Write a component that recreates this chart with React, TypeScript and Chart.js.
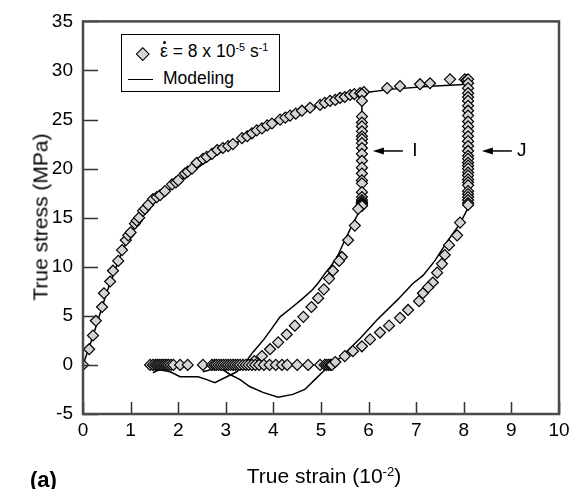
import React, { useEffect, useRef } from 'react';
import { Chart, registerables } from 'chart.js';

Chart.register(...registerables);

// ---- axis ticks ----
const xTickValues = [0, 1, 2, 3, 4, 5, 6, 7, 8, 9, 10];
const yTickValues = [-5, 0, 5, 10, 15, 20, 25, 30, 35];

// ---- experimental data (diamonds) ----
const loadStrain = [0, 0.13, 0.21, 0.27, 0.4, 0.44, 0.57, 0.63, 0.74, 0.82, 0.9, 0.95, 1.0, 1.09, 1.13, 1.18, 1.26, 1.3, 1.37, 1.47, 1.55, 1.62, 1.72, 1.87, 1.95, 2.0, 2.14, 2.2, 2.29, 2.39, 2.52, 2.6, 2.71, 2.82, 2.94, 3.05, 3.15, 3.34, 3.45, 3.55, 3.65, 3.76, 3.87, 3.97, 4.14, 4.25, 4.35, 4.47, 4.6, 4.77, 4.98, 5.08, 5.19, 5.3, 5.4, 5.5, 5.61, 5.7, 5.82, 5.9];
const loadStress = [0, 1.6, 3.0, 4.5, 5.9, 7.3, 8.5, 9.6, 10.6, 11.7, 12.7, 13.2, 13.5, 14.4, 14.7, 15.0, 15.7, 15.9, 16.3, 16.9, 17.1, 17.3, 17.7, 18.4, 18.6, 18.8, 19.5, 19.7, 20.0, 20.6, 21.0, 21.2, 21.5, 21.9, 22.1, 22.3, 22.5, 23.1, 23.3, 23.6, 23.9, 24.1, 24.4, 24.6, 25.0, 25.2, 25.4, 25.6, 25.9, 26.2, 26.5, 26.7, 26.9, 27.0, 27.2, 27.3, 27.5, 27.6, 27.7, 27.8];

const colIStrain = 5.86;
const colIStress = [27.6, 26.9, 25.3, 24.7, 24.3, 23.8, 23.3, 23.0, 22.6, 22.1, 21.5, 20.8, 20.1, 19.5, 18.8, 18.5, 17.6, 17.1, 16.8, 16.6, 16.5, 16.4, 16.3, 16.2];

const topStrain = [6.39, 6.66, 7.08, 7.29, 7.71, 8.02, 8.06];
const topStress = [28.2, 28.4, 28.6, 28.7, 29.1, 29.1, 29.0];

const colJStrain = 8.09;
const colJStress = [29.1, 28.7, 28.2, 27.7, 27.3, 26.9, 26.4, 25.9, 25.4, 24.8, 24.3, 23.8, 23.3, 22.8, 22.3, 21.8, 21.3, 21.0, 20.6, 20.3, 20.0, 19.6, 19.3, 18.9, 18.6, 18.3, 17.7, 17.4, 17.1, 16.8, 16.5, 16.3];

const unloadIStrain = [5.78, 5.71, 5.57, 5.44, 5.38, 5.25, 5.17, 5.06, 4.94, 4.8, 4.63, 4.45, 4.28, 4.1, 3.93, 3.76, 3.6];
const unloadIStress = [15.9, 14.2, 12.7, 11.0, 10.6, 9.6, 8.8, 7.7, 6.8, 5.9, 4.9, 4.0, 3.1, 2.3, 1.6, 0.9, 0.4];

const zeroStrain = [1.41, 1.47, 1.52, 1.56, 1.6, 1.64, 1.68, 1.72, 1.76, 1.8, 1.85, 1.9, 2.04, 2.2, 2.52, 2.71, 2.76, 2.8, 2.85, 2.9, 2.95, 3.0, 3.05, 3.1, 3.15, 3.2, 3.25, 3.3, 3.36, 3.42, 3.48, 3.55, 3.62, 3.7, 3.8, 3.92, 4.05, 4.18, 4.29, 4.5, 4.73, 4.98, 5.08, 5.12, 5.16, 5.2, 5.23];
const zeroStress = [0, 0, 0, 0, 0, 0, 0, 0, 0, 0, 0, 0, 0, 0, 0, 0, 0, 0, 0, 0, 0, 0, 0, 0, 0, 0, 0, 0, 0, 0, 0, 0, 0, 0, 0, 0, 0, 0, 0, 0, 0, 0, 0, 0, 0, 0, 0];

const unloadJStrain = [7.92, 7.86, 7.69, 7.6, 7.54, 7.44, 7.35, 7.25, 7.14, 7.06, 6.83, 6.66, 6.43, 6.24, 6.03, 5.86, 5.67, 5.5, 5.3];
const unloadJStress = [14.5, 13.2, 12.2, 11.2, 10.3, 9.4, 8.4, 7.9, 7.3, 6.5, 5.6, 4.8, 4.0, 3.3, 2.6, 1.9, 1.4, 0.9, 0.3];

// ---- modeling curves (solid line) ----
const modelAStrain = [0, 0.2, 0.5, 0.8, 1.0, 1.3, 1.6, 2.0, 2.5, 3.0, 3.5, 4.0, 4.5, 5.0, 5.5, 5.86, 5.86, 5.8, 5.67, 5.5, 5.34, 5.2, 5.08, 4.95, 4.81, 4.6, 4.4, 4.14, 3.95, 3.8, 3.66, 3.57, 3.45, 3.32, 3.23, 3.02, 2.77, 2.6, 2.42, 2.2, 2.04, 1.83, 1.62, 1.55, 1.47];
const modelAStress = [0, 2.8, 7.4, 11.3, 13.4, 15.5, 17.0, 18.6, 20.4, 22.0, 23.4, 24.6, 25.6, 26.5, 27.2, 27.6, 16.5, 15.6, 14.4, 12.7, 11.0, 10.0, 9.3, 8.4, 7.6, 6.7, 5.9, 4.9, 3.6, 2.6, 1.8, 1.3, 0.5, -0.2, -0.7, -1.2, -1.8, -1.5, -1.2, -1.2, -1.2, -0.7, -0.5, -0.6, -0.8];

const modelBStrain = [5.86, 6.5, 7.3, 8.09, 8.09, 7.92, 7.67, 7.39, 7.14, 6.93, 6.6, 6.18, 5.82, 5.4, 5.23, 5.04, 4.87, 4.66, 4.41, 4.1, 3.78, 3.5, 3.3, 3.1, 2.94, 2.75, 2.52];
const modelBStress = [27.7, 28.1, 28.4, 28.6, 16.0, 14.4, 12.7, 10.6, 9.1, 8.3, 6.6, 4.6, 2.7, 0.7, 0.2, -0.7, -1.5, -2.5, -3.0, -3.3, -2.8, -2.2, -1.5, -1.0, -0.5, -0.4, -0.7];

// ---- annotations (arrows pointing at the I and J columns) ----
const arrowLabels = ['I', 'J'];
const arrowTail = [6.72, 9.01];
const arrowTip = [6.09, 8.38];
const arrowLabelX = [6.97, 9.22];
const arrowY = 21.8;

const FONT = "'Liberation Sans', Arial, Helvetica, sans-serif";

const zip = (xs: number[], ys: number[]) => xs.map((x, i) => ({ x, y: ys[i] }));

const framePlugin = {
  id: 'frameAndArrows',
  afterDraw(chart: any) {
    const { ctx, chartArea: a, scales } = chart;
    const sx = scales.x;
    const sy = scales.y;
    ctx.save();
    // inward tick marks
    ctx.strokeStyle = '#333';
    ctx.lineWidth = 1.5;
    ctx.beginPath();
    yTickValues.forEach((v) => {
      const y = Math.round(sy.getPixelForValue(v)) + 0.5;
      ctx.moveTo(a.left, y);
      ctx.lineTo(a.left + 15, y);
    });
    xTickValues.forEach((v) => {
      const x = Math.round(sx.getPixelForValue(v)) + 0.5;
      ctx.moveTo(x, a.bottom);
      ctx.lineTo(x, a.bottom - 12);
    });
    ctx.stroke();
    // frame
    ctx.strokeStyle = '#4a4a4a';
    ctx.lineWidth = 2.5;
    ctx.strokeRect(a.left, a.top, a.right - a.left, a.bottom - a.top);
    // arrows
    ctx.strokeStyle = '#000';
    ctx.fillStyle = '#000';
    ctx.lineWidth = 1.5;
    const yy = sy.getPixelForValue(arrowY);
    arrowLabels.forEach((lab, i) => {
      const x0 = sx.getPixelForValue(arrowTail[i]);
      const x1 = sx.getPixelForValue(arrowTip[i]);
      ctx.beginPath();
      ctx.moveTo(x0, yy);
      ctx.lineTo(x1 + 8, yy);
      ctx.stroke();
      ctx.beginPath();
      ctx.moveTo(x1, yy);
      ctx.lineTo(x1 + 11, yy - 3.5);
      ctx.lineTo(x1 + 11, yy + 3.5);
      ctx.closePath();
      ctx.fill();
      ctx.font = `19px ${FONT}`;
      ctx.textAlign = 'center';
      ctx.textBaseline = 'middle';
      ctx.fillText(lab, sx.getPixelForValue(arrowLabelX[i]), yy);
    });
    ctx.restore();
  },
};

const sup: React.CSSProperties = { fontSize: '0.62em', position: 'relative', top: '-0.55em' };

export default function App() {
  const ref = useRef<HTMLCanvasElement | null>(null);

  useEffect(() => {
    if (!ref.current) return;
    const expData = [
      ...zip(loadStrain, loadStress),
      ...colIStress.map((y) => ({ x: colIStrain, y })),
      ...zip(topStrain, topStress),
      ...colJStress.map((y) => ({ x: colJStrain, y })),
      ...zip(unloadIStrain, unloadIStress),
      ...zip(zeroStrain, zeroStress),
      ...zip(unloadJStrain, unloadJStress),
    ];
    const chart = new Chart(ref.current, {
      type: 'scatter',
      data: {
        datasets: [
          {
            label: 'experiment',
            data: expData,
            pointStyle: 'rectRot',
            pointRadius: 5.5,
            pointBackgroundColor: '#d4d4d4',
            pointBorderColor: '#000',
            pointBorderWidth: 1.2,
            showLine: false,
          },
          {
            label: 'Modeling',
            data: zip(modelAStrain, modelAStress),
            showLine: true,
            borderColor: '#000',
            borderWidth: 1.5,
            pointRadius: 0,
            tension: 0,
          },
          {
            label: 'Modeling2',
            data: zip(modelBStrain, modelBStress),
            showLine: true,
            borderColor: '#000',
            borderWidth: 1.5,
            pointRadius: 0,
            tension: 0,
          },
        ],
      },
      options: {
        responsive: false,
        animation: false,
        devicePixelRatio: 1,
        layout: { padding: { left: 0, right: 21, top: 20, bottom: 0 } },
        plugins: { legend: { display: false }, tooltip: { enabled: false } },
        scales: {
          x: {
            type: 'linear',
            min: 0,
            max: 10,
            afterFit: (s: any) => { s.height = 75; },
            afterBuildTicks: (s: any) => { s.ticks = xTickValues.map((v) => ({ value: v })); },
            grid: { display: false, drawTicks: false },
            border: { display: false },
            ticks: { color: '#000', font: { family: FONT, size: 19 }, padding: 5, maxRotation: 0 },
          },
          y: {
            type: 'linear',
            min: -5,
            max: 35,
            afterFit: (s: any) => { s.width = 83; },
            afterBuildTicks: (s: any) => { s.ticks = yTickValues.map((v) => ({ value: v })); },
            grid: { display: false, drawTicks: false },
            border: { display: false },
            ticks: { color: '#000', font: { family: FONT, size: 19 }, padding: 10 },
          },
        },
      },
      plugins: [framePlugin],
    });
    return () => chart.destroy();
  }, []);

  return (
    <div style={{ position: 'fixed', left: 0, top: 0, width: 580, height: 489, background: '#fff', fontFamily: FONT, color: '#000' }}>
      <canvas ref={ref} width={580} height={489} style={{ position: 'absolute', left: 0, top: 0 }} />
      {/* y axis title */}
      <div style={{ position: 'absolute', left: 40, top: 217, transform: 'translate(-50%, -50%) rotate(-90deg)', whiteSpace: 'nowrap', fontSize: 21, lineHeight: 1 }}>
        True stress (MPa)
      </div>
      {/* x axis title */}
      <div style={{ position: 'absolute', left: 324, top: 465, transform: 'translateX(-50%)', whiteSpace: 'nowrap', fontSize: 21, lineHeight: 1 }}>
        True strain (10<span style={sup}>-2</span>)
      </div>
      {/* panel label */}
      <div style={{ position: 'absolute', left: 30, top: 469, whiteSpace: 'nowrap', fontSize: 22, lineHeight: 1, fontWeight: 'bold' }}>
        (a)
      </div>
      {/* legend */}
      <div style={{ position: 'absolute', left: 121, top: 34, width: 157, height: 56, border: '1px solid #000', background: '#fff' }}>
        <div style={{ position: 'absolute', left: 16, top: 13.5, width: 7.5, height: 7.5, transform: 'rotate(45deg)', background: '#d4d4d4', border: '1.2px solid #000' }} />
        <div style={{ position: 'absolute', left: 38, top: 7.5, fontSize: 17.5, lineHeight: 1, whiteSpace: 'nowrap' }}>
          <span style={{ position: 'relative', display: 'inline-block' }}>
            ε
            <span style={{ position: 'absolute', left: 3, top: -2, width: 3, height: 3, borderRadius: '50%', background: '#000' }} />
          </span>
          {' '}= 8 x 10<span style={sup}>-5</span> s<span style={sup}>-1</span>
        </div>
        <div style={{ position: 'absolute', left: 6, top: 44, width: 25, height: 0, borderTop: '1.5px solid #000' }} />
        <div style={{ position: 'absolute', left: 41, top: 35, fontSize: 17.5, lineHeight: 1, whiteSpace: 'nowrap' }}>
          Modeling
        </div>
      </div>
    </div>
  );
}
